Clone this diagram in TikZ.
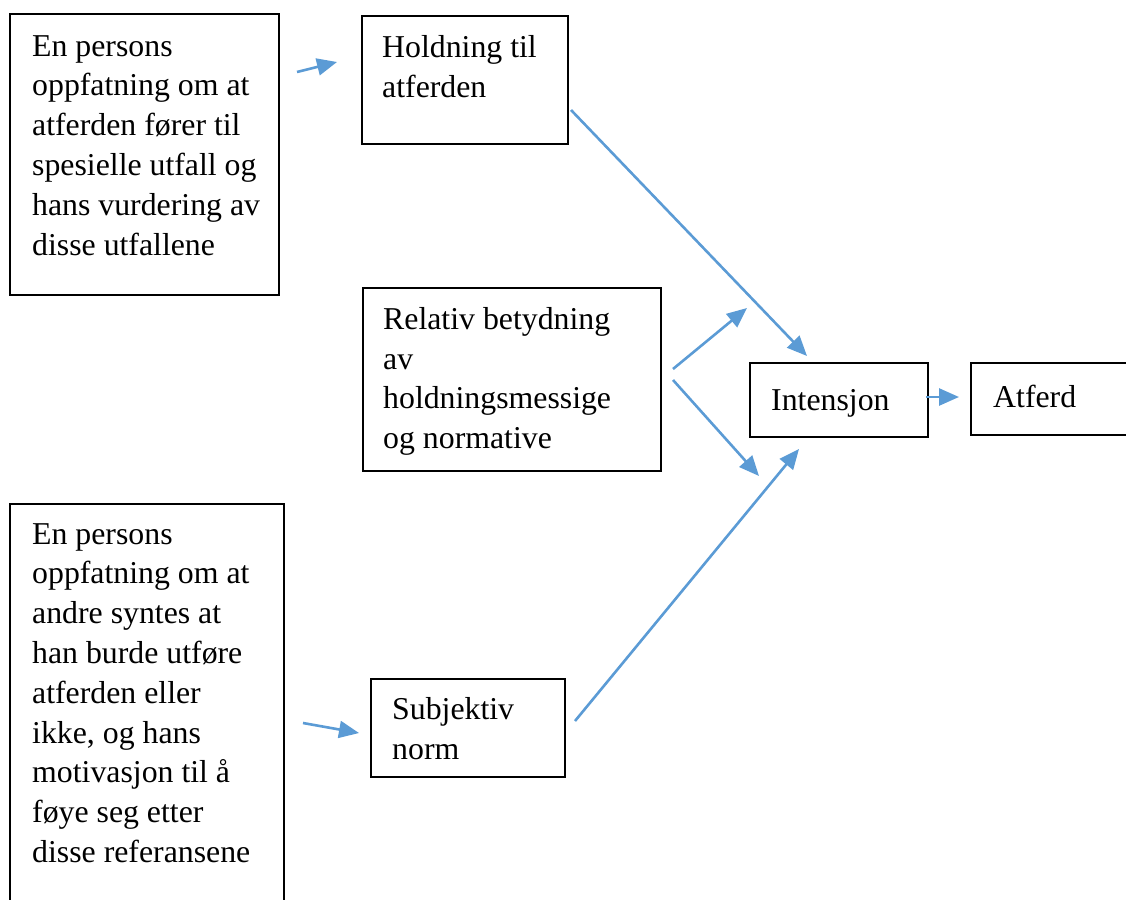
\documentclass[tikz,border=0pt]{standalone}
\usepackage{fontspec}
\setmainfont{Liberation Serif}
\usetikzlibrary{arrows.meta}
\definecolor{arrowblue}{HTML}{5B9BD5}
\tikzset{
  box/.style={draw, line width=1.6pt, anchor=north west, inner sep=0pt, outer sep=0pt},
  txt/.style={anchor=north west, inner sep=0pt, align=left, font=\fontsize{31.8}{39.8}\selectfont,
    execute at begin node=\rule{0pt}{25pt}},
  link/.style={draw=arrowblue, line width=2.6pt, -{Triangle[length=20pt,width=17pt]}}
}

\begin{document}
\begin{tikzpicture}[x=1pt,y=-1pt]
        \useasboundingbox (0,0) rectangle (1126,899);
        % boxes
        \node (b0) [box, minimum width=269pt, minimum height=281pt] at (10,14) {};
        \node (b1) [box, minimum width=206pt, minimum height=128pt] at (362,16) {};
        \node (b2) [box, minimum width=298pt, minimum height=183pt] at (363,288) {};
        \node (b3) [box, minimum width=178pt, minimum height=74pt] at (750,363) {};
        \node (b4) [box, minimum width=200pt, minimum height=72pt] at (971,363) {};
        \node (b5) [box, minimum width=274pt, minimum height=450pt] at (10,504) {};
        \node (b6) [box, minimum width=194pt, minimum height=98pt] at (371,679) {};
        % texts
        \node (t0) [txt] at (32,35) {En persons\\oppfatning om at\\atferden fører til\\spesielle utfall og\\hans vurdering av\\disse utfallene};
        \node (t1) [txt] at (382,35) {Holdning til\\atferden};
        \node (t2) [txt] at (383,307) {Relativ betydning\\av\\holdningsmessige\\og normative};
        \node (t3) [txt] at (771,385) {Intensjon};
        \node (t4) [txt] at (993,382) {Atferd};
        \node (t5) [txt] at (32,523) {En persons\\oppfatning om at\\andre syntes at\\han burde utføre\\atferden eller\\ikke, og hans\\motivasjon til å\\føye seg etter\\disse referansene};
        \node (t6) [txt] at (392,697) {Subjektiv\\norm};
        % arrow ends
        \coordinate (c0) at (297,72);
        \coordinate (c1) at (337,62);
        \coordinate (c2) at (571,110);
        \coordinate (c3) at (807,356);
        \coordinate (c4) at (673,369);
        \coordinate (c5) at (747,308);
        \coordinate (c6) at (673,380);
        \coordinate (c7) at (759,476);
        \coordinate (c8) at (575,721);
        \coordinate (c9) at (799,449);
        \coordinate (c10) at (926,397);
        \coordinate (c11) at (959,397);
        \coordinate (c12) at (303,723);
        \coordinate (c13) at (359,733);
        % arrows
        \draw [link] (c0) -- (c1);
        \draw [link] (c2) -- (c3);
        \draw [link] (c4) -- (c5);
        \draw [link] (c6) -- (c7);
        \draw [link] (c8) -- (c9);
        \draw [link] (c10) -- (c11);
        \draw [link] (c12) -- (c13);
\end{tikzpicture}
\end{document}
